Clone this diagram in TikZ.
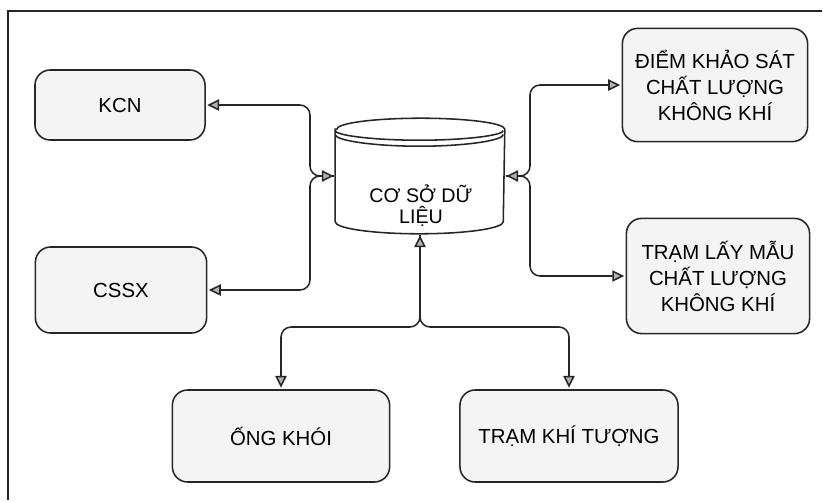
\documentclass[tikz,border=0pt]{standalone}
\usepackage{fontspec}
\setmainfont{Liberation Sans}
\usetikzlibrary{arrows.meta,calc,positioning}

\begin{document}
\begin{tikzpicture}[x=0.025cm,y=-0.025cm,line width=1.1pt,draw=black!85,
                    >={Triangle[length=8.5pt,width=8pt,fill=gray!60]},
                    shorten >=1pt,shorten <=1pt,
                    box/.style={draw,rounded corners=0.38cm,fill=gray!9,inner sep=0pt,
                                align=center,font=\fontsize{14.5}{18.5}\selectfont},
                    link/.style={rounded corners=0.25cm}]

    \useasboundingbox (0,0) rectangle (823,501);
    \draw (8,501) -- (8,11) -- (823,11);

    \node[box,minimum width=4.25cm,minimum height=1.75cm] (kcn)  at (120,105) {KCN};
    \node[box,minimum width=4.28cm,minimum height=2.15cm] (cssx) at (121,290) {CSSX};
    \node[box,minimum width=5.43cm,minimum height=2.3cm]  (ong)  at (281,436) {ỐNG KHÓI};
    \node[box,minimum width=5.45cm,minimum height=2.3cm]  (tkt)  at (569,436) {TRẠM KHÍ TƯỢNG};
    \node[box,minimum width=4.63cm,minimum height=2.83cm] (dks)  at (715,85)  {ĐIỂM KHẢO SÁT\\CHẤT LƯỢNG\\KHÔNG KHÍ};
    \node[box,minimum width=4.58cm,minimum height=2.88cm] (trm)  at (718,276) {TRẠM LẤY MẪU\\CHẤT LƯỢNG\\KHÔNG KHÍ};

    \node[minimum width=4.2cm,minimum height=2.85cm,inner sep=0pt] (db) at (420,176) {};
    \draw[fill=white] ($(db.north west)+(0,11)$) -- ($(db.south west)+(0,-12)$)
        arc[start angle=180,end angle=360,x radius=2.1cm,y radius=0.3cm]
        -- ($(db.north east)+(0,11)$)
        arc[start angle=0,end angle=180,x radius=2.1cm,y radius=0.275cm] -- cycle;
    \draw ($(db.north west)+(0,11)$) arc[start angle=180,end angle=360,x radius=2.1cm,y radius=0.275cm];
    \draw ($(db.north west)+(0,15)$) arc[start angle=180,end angle=360,x radius=2.1cm,y radius=0.325cm];
    \node[font=\fontsize{14}{15}\selectfont,align=center] (dbtext) at (421,206) {CƠ SỞ DỮ\\LIỆU};

    \coordinate (jl) at (310,176);
    \coordinate (jr) at (530,176);
    \coordinate (jb) at (420,327);

    \draw[link,->]  (db.west) -- (jl) |- (cssx.east);
    \draw[link,<->] (kcn.east) -| (jl) -- (db.west);
    \draw[link,->]  (db.east) -- (jr) |- (trm.west);
    \draw[link,<->] (dks.west) -| (jr) -- (db.east);
    \draw[link,->]  (db.south) -- (jb) -| (tkt.north);
    \draw[link,<->] (db.south) -- (jb) -| (ong.north);
\end{tikzpicture}
\end{document}
